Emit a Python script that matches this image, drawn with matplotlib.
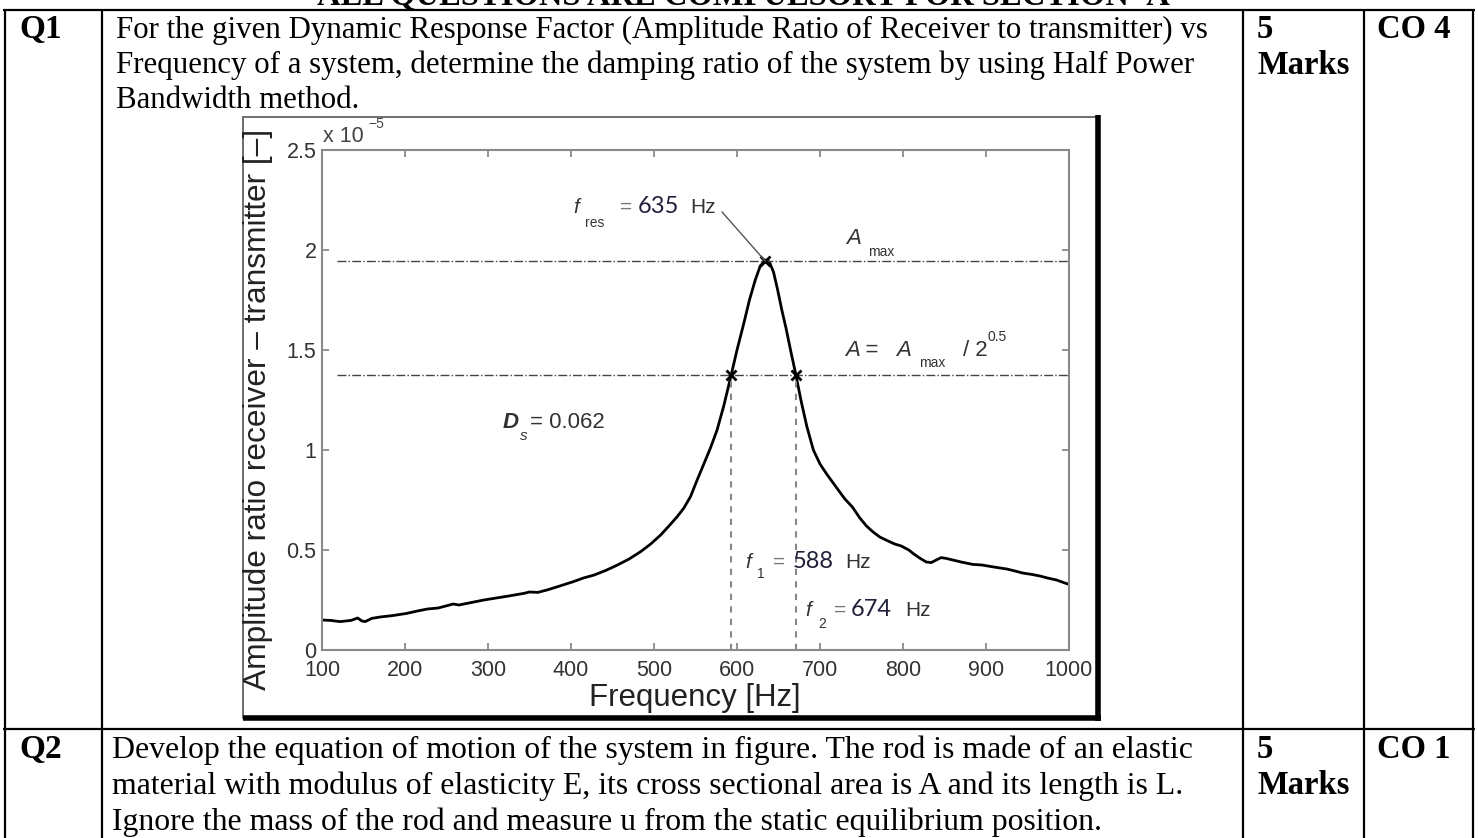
import matplotlib.pyplot as plt
from matplotlib.lines import Line2D
from matplotlib.patches import Rectangle

W, H = 1478, 838

# measured response (amplitude ratio, units of 1e-5) vs frequency [Hz]
freq = [100, 110, 122, 135, 143, 148, 152, 160, 170, 185, 202, 215, 227, 240, 251,
        258, 265, 283, 295, 307, 325, 343, 350, 360, 371, 385, 403, 415, 428, 442,
        456, 470, 484, 496, 508, 518, 528, 536, 544, 552, 560, 568, 576, 584, 593,
        600, 608, 615, 622, 628, 634, 639, 644, 649, 654, 659, 665, 671, 677, 684,
        692, 700, 708, 715, 722, 730, 739, 748, 756, 764, 772, 782, 790, 798, 807,
        813, 820, 828, 834, 840, 846, 852, 860, 870, 884, 895, 905, 914, 925, 935,
        944, 955, 965, 974, 985, 993, 1000]
amp = [0.150, 0.148, 0.142, 0.148, 0.160, 0.145, 0.142, 0.158, 0.165, 0.172, 0.183,
       0.195, 0.205, 0.210, 0.222, 0.230, 0.225, 0.240, 0.250, 0.258, 0.270, 0.283,
       0.290, 0.288, 0.300, 0.318, 0.342, 0.360, 0.375, 0.398, 0.425, 0.455, 0.492,
       0.530, 0.575, 0.620, 0.667, 0.710, 0.767, 0.850, 0.930, 1.010, 1.100, 1.220,
       1.375, 1.500, 1.630, 1.750, 1.850, 1.920, 1.950, 1.940, 1.890, 1.800, 1.700,
       1.610, 1.490, 1.375, 1.250, 1.120, 1.000, 0.930, 0.880, 0.840, 0.800, 0.755,
       0.715, 0.660, 0.620, 0.590, 0.565, 0.545, 0.530, 0.520, 0.500, 0.480, 0.460,
       0.440, 0.437, 0.450, 0.462, 0.458, 0.450, 0.440, 0.428, 0.425, 0.418, 0.412,
       0.405, 0.395, 0.385, 0.378, 0.370, 0.360, 0.350, 0.338, 0.328]

f_res, f1, f2 = 634, 593, 671
a_max, a_half = 1.945, 1.375

xticks = [100, 200, 300, 400, 500, 600, 700, 800, 900, 1000]
yticks = [0, 0.5, 1, 1.5, 2, 2.5]
ytick_labels = ['0', '0.5', '1', '1.5', '2', '2.5']

q1_lines = ['For the given Dynamic Response Factor (Amplitude Ratio of Receiver to transmitter) vs',
            'Frequency of a system, determine the damping ratio of the system by using Half Power',
            'Bandwidth method.']
q2_lines = ['Develop the equation of motion of the system in figure. The rod is made of an elastic',
            'material with modulus of elasticity E, its cross sectional area is A and its length is L.',
            'Ignore the mass of the rod and measure u from the static equilibrium position.']

SERIF = 'Liberation Serif'
SANS = 'Liberation Sans'

fig = plt.figure(figsize=(W / 100, H / 100), dpi=100)


def fx(x):
    return x / W


def fy(y):
    return 1 - y / H


def line(x0, y0, x1, y1, lw=1.6, color='black', z=2):
    fig.add_artist(Line2D([fx(x0), fx(x1)], [fy(y0), fy(y1)], lw=lw, color=color,
                          transform=fig.transFigure, solid_capstyle='butt', zorder=z))


def ftext(x, y, s, size=22.2, bold=False, **kw):
    fig.text(fx(x), fy(y), s, fontsize=size, family=SERIF,
             fontweight='bold' if bold else 'normal', va='baseline', **kw)


# table grid
line(3, 10, 1475, 10)
line(3, 729, 1475, 729)
for xv in [5, 102, 1243, 1364, 1473]:
    line(xv, 10, xv, 838)

ftext(743, 5, 'ALL QUESTIONS ARE COMPULSORY FOR SECTION- A', size=23.5, bold=True, ha='center')

ftext(19, 38, 'Q1', size=24, bold=True)
ftext(19, 758, 'Q2', size=24, bold=True)
for i, s in enumerate(q1_lines):
    ftext(116, 38 + 35 * i, s, size=22.2)
for i, s in enumerate(q2_lines):
    ftext(112, 758 + 36 * i, s, size=22.9)
for y0, co in [(38, 'CO 4'), (758, 'CO 1')]:
    ftext(1257, y0, '5', size=23.5, bold=True)
    ftext(1257, y0 + 36, 'Marks', size=23.5, bold=True)
    ftext(1377, y0, co, size=23.5, bold=True)

# pasted figure frame
fig.add_artist(Rectangle((fx(243), fy(718)), fx(1097) - fx(243), fy(117) - fy(718),
                         transform=fig.transFigure, facecolor='white', edgecolor='#555555',
                         lw=1.2, zorder=-1))
line(1098, 115, 1098, 721, lw=4)
line(243, 718, 1101, 718, lw=4)

ax = fig.add_axes([fx(322), fy(650), fx(1069) - fx(322), fy(150) - fy(650)])
ax.set_zorder(5)
ax.patch.set_alpha(0)
ax.plot(freq, amp, color='black', lw=2)
ax.plot([118, 1000], [a_max, a_max], ls='-.', color='#444444', lw=1)
ax.plot([118, 1000], [a_half, a_half], ls='-.', color='#444444', lw=1)
ax.plot([f1, f1], [0, a_half], ls=(0, (3, 3)), color='#888888', lw=1.5)
ax.plot([f2, f2], [0, a_half], ls=(0, (3, 3)), color='#888888', lw=1.5)
ax.plot([f1, f2, f_res], [a_half, a_half, a_max], 'x', color='black', ms=7, mew=2)
ax.plot([582, f_res], [2.19, a_max], color='#555555', lw=1)

ax.set_xlim(100, 1000)
ax.set_ylim(0, 2.5)
ax.set_xticks(xticks)
ax.set_xticklabels([str(t) for t in xticks])
ax.set_yticks(yticks)
ax.set_yticklabels(ytick_labels)
for sp in ax.spines.values():
    sp.set_color('#8a8a8a')
    sp.set_linewidth(1.5)
ax.tick_params(direction='in', top=True, right=True, length=5, width=1.2,
               color='#808080', labelcolor='#333333', labelsize=15.5, pad=4)
ax.tick_params(axis='x', pad=7)
for lab in ax.get_xticklabels() + ax.get_yticklabels():
    lab.set_family(SANS)

ax.set_xlabel('Frequency [Hz]', fontsize=22.5, family=SANS, color='#222222')
ax.xaxis.set_label_coords(0.499, -0.066)
ax.set_ylabel('Amplitude ratio receiver \u2013 transmitter [\u2013]', fontsize=22.8,
              family=SANS, color='#222222')
ax.yaxis.set_label_coords(-0.066, 0.482)

fig.text(fx(323), fy(142), 'x 10', fontsize=15.5, family=SANS, color='#444444', va='baseline')
fig.text(fx(368), fy(128), '\u22125', fontsize=10, family=SANS, color='#444444', va='baseline')

# annotations
tc = '#333333'
num = '#20203a'
parts = [
    (402.6, 2.185, 'f', 15, 'italic', SANS, tc),
    (417, 2.117, 'res', 10, 'normal', SANS, tc),
    (459, 2.185, '=', 15, 'normal', SANS, '#777777'),
    (480, 2.185, '635', 17, 'normal', 'Lato', num),
    (543.7, 2.185, 'Hz', 15, 'normal', SANS, tc),
    (731.8, 2.03, 'A', 16, 'italic', SANS, tc),
    (758, 1.97, 'max', 10, 'normal', SANS, tc),
    (730.6, 1.472, 'A =', 16, 'italic', SANS, tc),
    (792, 1.472, 'A', 16, 'italic', SANS, tc),
    (819.4, 1.414, 'max', 10, 'normal', SANS, tc),
    (872, 1.472, '/ 2', 16, 'normal', SANS, tc),
    (902.4, 1.546, '0.5', 10, 'normal', SANS, tc),
    (318, 1.11, 'D', 16, 'italic', SANS, tc),
    (338.7, 1.05, 's', 11, 'italic', SANS, tc),
    (350.8, 1.11, '= 0.062', 16, 'normal', SANS, tc),
    (609.5, 0.409, 'f', 15, 'italic', SANS, tc),
    (624.5, 0.36, '1', 10, 'normal', SANS, tc),
    (643.8, 0.409, '=', 15, 'normal', SANS, '#777777'),
    (666.7, 0.409, '588', 17, 'normal', 'Lato', num),
    (730, 0.409, 'Hz', 15, 'normal', SANS, tc),
    (682.4, 0.17, 'f', 15, 'italic', SANS, tc),
    (698, 0.112, '2', 10, 'normal', SANS, tc),
    (717.3, 0.17, '=', 15, 'normal', SANS, '#777777'),
    (736.6, 0.17, '674', 17, 'normal', 'Lato', num),
    (803, 0.17, 'Hz', 15, 'normal', SANS, tc),
]
for x, y, s, size, style, fam, col in parts:
    w = 'bold' if s == 'D' else 'normal'
    ax.text(x, y, s, fontsize=size, style=style, family=fam, color=col,
            va='baseline', fontweight=w)

fig.savefig('out.png', dpi=100)
